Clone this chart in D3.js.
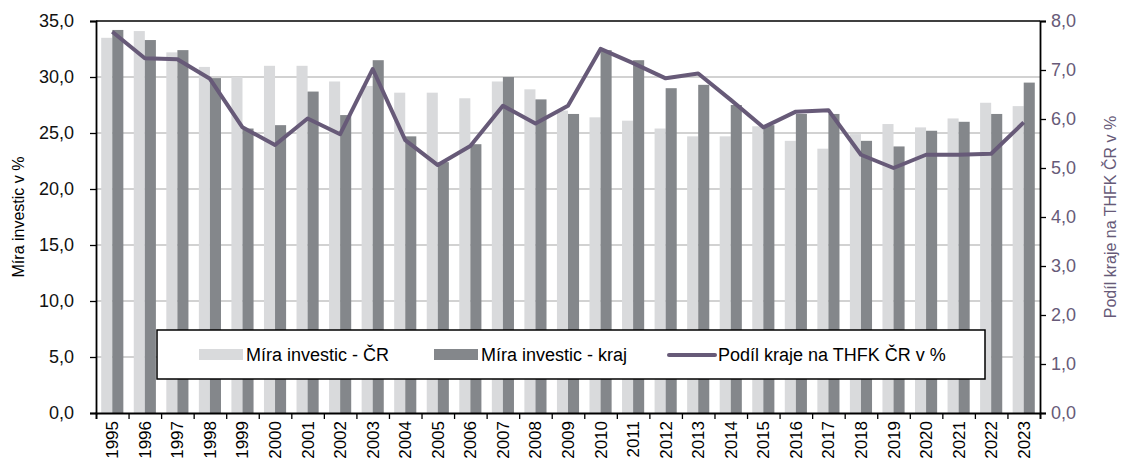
<!DOCTYPE html>
<html lang="cs"><head><meta charset="utf-8">
<script type="text/javascript" src="https://cdn.jsdelivr.net/npm/d3@7"></script>
<style>
  body { margin: 0; background: #fff; }
  text { font-family: "Liberation Sans", Arial, sans-serif; }
</style>
</head>
<body>
<script type="text/javascript">
// investment rate CR vs region + region share on GFCF (right axis)
var years = ["1995","1996","1997","1998","1999","2000","2001","2002","2003","2004",
             "2005","2006","2007","2008","2009","2010","2011","2012","2013","2014",
             "2015","2016","2017","2018","2019","2020","2021","2022","2023"];
var miraCR =   [33.5,34.1,32.2,30.9,30.0,31.0,31.0,29.6,29.2,28.6,
                28.6,28.1,29.6,28.9,27.0,26.4,26.1,25.4,24.7,24.7,
                25.6,24.3,23.6,24.9,25.8,25.5,26.3,27.7,27.4];
var miraKraj = [34.2,33.3,32.4,29.9,25.4,25.7,28.7,26.6,31.5,24.7,
                22.4,24.0,30.0,28.0,26.7,32.4,31.5,29.0,29.3,27.5,
                25.7,26.7,26.7,24.3,23.8,25.2,26.0,26.7,29.5];
var podil =    [7.78,7.24,7.22,6.82,5.83,5.47,6.01,5.69,7.02,5.57,
                5.06,5.45,6.27,5.91,6.27,7.43,7.14,6.83,6.93,6.39,
                5.83,6.15,6.18,5.27,5.00,5.27,5.27,5.29,5.93];
var leftTicks = [0,5,10,15,20,25,30,35];
var rightTicks = [0,1,2,3,4,5,6,7,8];

var width = 1121, height = 465;
var L = 96, R = 1040, T = 21, B = 413;
var purple = "#675a78";
var fmt = function(v) { return d3.format(".1f")(v).replace(".", ","); };

var svg = d3.select("body").append("svg")
    .attr("width", width).attr("height", height);

var x = d3.scaleBand().domain(years).range([L, R])
    .paddingInner(0.32).paddingOuter(0.16);
var xs = d3.scaleBand().domain(["cr","kraj"]).range([0, x.bandwidth()]);
var yL = d3.scaleLinear().domain([0, 35]).range([B, T]);
var yR = d3.scaleLinear().domain([0, 8]).range([B, T]);

// gridlines
svg.append("g").selectAll("line").data(leftTicks.slice(1, -1)).enter()
    .append("line")
    .attr("x1", L).attr("x2", R)
    .attr("y1", d => yL(d)).attr("y2", d => yL(d))
    .attr("stroke", "#c3c3c3").attr("stroke-width", 1.3);

// bars
var rows = years.map((y, i) => ({year: y, cr: miraCR[i], kraj: miraKraj[i]}));
var colors = {cr: "#d9dadc", kraj: "#84878b"};
["cr","kraj"].forEach(function(k) {
  svg.append("g").selectAll("rect").data(rows).enter()
    .append("rect")
    .attr("x", d => x(d.year) + xs(k))
    .attr("width", xs.bandwidth())
    .attr("y", d => yL(d[k]))
    .attr("height", d => B - yL(d[k]))
    .attr("fill", colors[k]);
});

// line
var line = d3.line()
    .x((d, i) => x(years[i]) + x.bandwidth() / 2)
    .y(d => yR(d));
svg.append("path").datum(podil)
    .attr("d", line)
    .attr("fill", "none")
    .attr("stroke", purple)
    .attr("stroke-width", 4)
    .attr("stroke-linejoin", "round");

// top border
svg.append("line").attr("x1", L).attr("x2", R).attr("y1", T).attr("y2", T)
    .attr("stroke", "#000").attr("stroke-width", 1.5);

// axes
var axL = svg.append("g").attr("transform", "translate(" + L + ",0)")
    .call(d3.axisLeft(yL).tickValues(leftTicks).tickFormat(fmt).tickSize(6).tickPadding(16));
var axR = svg.append("g").attr("transform", "translate(" + R + ",0)")
    .call(d3.axisRight(yR).tickValues(rightTicks).tickFormat(fmt).tickSize(6).tickPadding(5));
var axB = svg.append("g").attr("transform", "translate(0," + B + ")")
    .call(d3.axisBottom(d3.scaleLinear().domain([0, years.length]).range([L, R]))
      .tickValues(d3.range(years.length + 1)).tickFormat("").tickSize(6));
svg.append("g").selectAll("text").data(years).enter()
    .append("text")
    .attr("transform", d => "translate(" + (x(d) + x.bandwidth() / 2 + 6) + "," + (B + 8) + ") rotate(-90)")
    .attr("text-anchor", "end")
    .attr("font-size", 17)
    .attr("fill", "#000")
    .text(d => d);

[axL, axR, axB].forEach(function(a) {
  a.select(".domain").attr("stroke", "#000").attr("stroke-width", 1.8);
  a.selectAll(".tick line").attr("stroke", "#000").attr("stroke-width", 1.3);
  a.selectAll("text").attr("font-size", 18).attr("font-family", "Liberation Sans, Arial, sans-serif");
});
axL.selectAll("text").attr("fill", "#111");
axR.selectAll("text").attr("fill", purple);

// axis titles
svg.append("text")
    .attr("transform", "translate(24," + ((T + B) / 2) + ") rotate(-90)")
    .attr("text-anchor", "middle").attr("font-size", 16).attr("fill", "#000")
    .text("Míra investic v %");
svg.append("text")
    .attr("transform", "translate(1116," + ((T + B) / 2) + ") rotate(-90)")
    .attr("text-anchor", "middle").attr("font-size", 16).attr("fill", purple)
    .text("Podíl kraje na THFK ČR v %");

// legend
var lg = svg.append("g");
lg.append("rect").attr("x", 157).attr("y", 330).attr("width", 828).attr("height", 49)
    .attr("fill", "#fff").attr("stroke", "#000").attr("stroke-width", 1.5);
var items = [
  {label: "Míra investic - ČR", x: 199, tx: 246, type: "bar", color: colors.cr},
  {label: "Míra investic - kraj", x: 434, tx: 481, type: "bar", color: colors.kraj},
  {label: "Podíl kraje na THFK ČR v %", x: 669, tx: 718, type: "line", color: purple}
];
items.forEach(function(it) {
  if (it.type === "bar") {
    lg.append("rect").attr("x", it.x).attr("y", 349).attr("width", 44).attr("height", 11).attr("fill", it.color);
  } else {
    lg.append("line").attr("x1", it.x).attr("x2", it.x + 46).attr("y1", 355).attr("y2", 355)
      .attr("stroke", it.color).attr("stroke-width", 4).attr("stroke-linecap", "round");
  }
  lg.append("text").attr("x", it.tx).attr("y", 361)
    .attr("font-size", 18).attr("fill", "#000").text(it.label);
});
</script>
</body></html>
